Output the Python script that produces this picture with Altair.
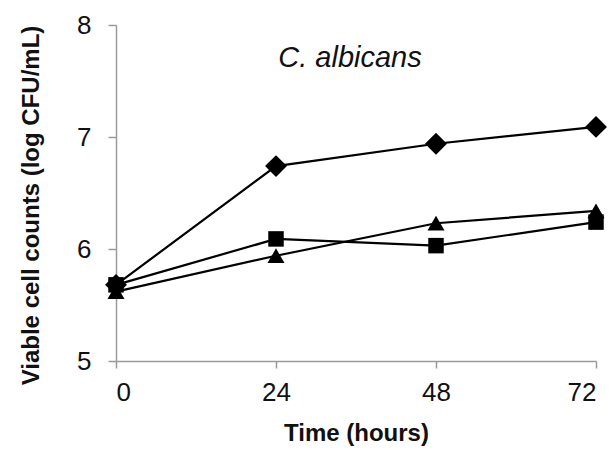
import altair as alt
import pandas as pd

hours = [0, 24, 48, 72]
series_names = ["Diamond", "Square", "Triangle"]
diamond = [5.68, 6.74, 6.94, 7.09]
square = [5.68, 6.09, 6.03, 6.24]
triangle = [5.62, 5.94, 6.23, 6.34]
x_ticks = [0, 24, 48, 72]
y_ticks = [5, 6, 7, 8]

rows = []
for name, vals in zip(series_names, [diamond, square, triangle]):
    for h, v in zip(hours, vals):
        rows.append({"hours": h, "count": v, "series": name})
df = pd.DataFrame(rows)

FONT = "Liberation Sans"

x = alt.X("hours:Q", scale=alt.Scale(domain=[0, 72], nice=False),
          axis=alt.Axis(values=x_ticks, title="Time (hours)", grid=False,
                        labelFontSize=26, titleFontSize=24, titleFontWeight="bold",
                        labelPadding=11, titlePadding=16, tickSize=7,
                        domainColor="#9a9a9a", tickColor="#9a9a9a",
                        labelColor="#111111", titleColor="#111111",
                        labelFont=FONT, titleFont=FONT, domainWidth=1.5, tickWidth=1.5))
y = alt.Y("count:Q", scale=alt.Scale(domain=[5, 8], nice=False, zero=False),
          axis=alt.Axis(values=y_ticks, title="Viable cell counts (log CFU/mL)", grid=False,
                        labelFontSize=26, titleFontSize=24, titleFontWeight="bold",
                        labelPadding=17, titlePadding=33, tickSize=8, titleY=180,
                        domainColor="#9a9a9a", tickColor="#9a9a9a",
                        labelColor="#111111", titleColor="#111111",
                        labelFont=FONT, titleFont=FONT, domainWidth=1.5, tickWidth=1.5))

base = alt.Chart(df)
lines = base.mark_line(color="black", strokeWidth=2.2).encode(
    x=x, y=y, detail="series:N")

marker_styles = {"Diamond": ("diamond", 480), "Square": ("square", 240), "Triangle": ("triangle-up", 290)}
point_layers = []
for name in series_names:
    shp, sz = marker_styles[name]
    point_layers.append(
        base.transform_filter(alt.datum.series == name)
        .mark_point(filled=True, opacity=1, color="black", shape=shp, size=sz)
        .encode(x=x, y=y)
    )

chart = alt.layer(lines, *point_layers).properties(
    width=480, height=336,
    autosize=alt.AutoSizeParams(type="none"),
    padding={"left": 108, "top": 17, "right": 12, "bottom": 86},
    title=alt.TitleParams("C. albicans", font=FONT, fontSize=29, fontStyle="italic",
                          fontWeight="normal", color="#111111", anchor="middle",
                          offset=-61, dx=-6),
).configure_view(stroke=None)

chart.save("out.html", embed_options={"renderer": "svg", "actions": False})
